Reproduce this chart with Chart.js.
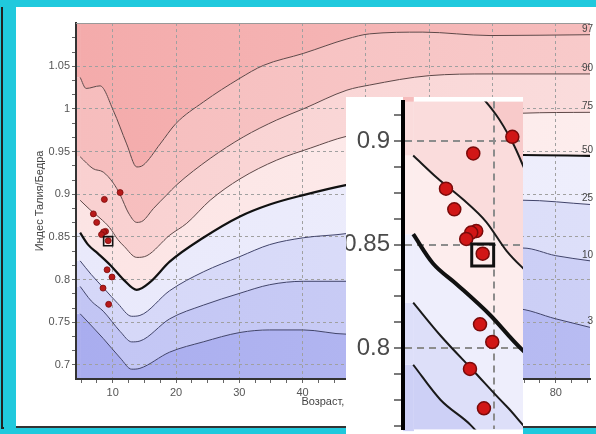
<!DOCTYPE html>
<html>
<head>
<meta charset="utf-8">
<script src="https://cdn.jsdelivr.net/npm/chart.js@4/dist/chart.umd.min.js"></script>
<style>
html, body { margin: 0; padding: 0; }
body { width: 596px; height: 434px; background: #20c9dd; position: relative; overflow: hidden; }
#frame { position: absolute; left: 1px; top: 7px; width: 1px; height: 420px; border-left: 2px solid #222; border-bottom: 2px solid #222; }
#panel { position: absolute; left: 16px; top: 7px; width: 580px; height: 419px; background: #fff; border-bottom: 2px solid #333; }
#mainBox { position: absolute; left: 16px; top: 7px; width: 580px; height: 419px; }
#zoomBox { position: absolute; left: 346px; top: 97px; width: 177px; height: 337px; background: #fff; }
</style>
</head>
<body>
<div id="frame"></div>
<div id="panel"></div>
<div id="mainBox"><canvas id="mainChart"></canvas></div>
<div id="zoomBox"><canvas id="zoomChart"></canvas></div>
<script>
const percentiles = ['3', '10', '25', '50', '75', '90', '97'];

const p3Age = [4.85, 8.5, 11.2, 13.0, 14.3, 19, 24.3, 30.1, 34.8, 40.1, 47, 73.5, 80, 85.4];
const p3Val = [0.760, 0.731, 0.708, 0.695, 0.696, 0.715, 0.727, 0.738, 0.741, 0.741, 0.736, 0.766, 0.754, 0.744];

const p10Age = [4.85, 6.6, 8.5, 11.2, 13.0, 14.3, 19, 24.3, 30.1, 34.8, 40.1, 47, 74.8, 80, 85.4];
const p10Val = [0.792, 0.775, 0.763, 0.739, 0.727, 0.728, 0.754, 0.770, 0.784, 0.794, 0.798, 0.798, 0.837, 0.828, 0.822];

const p25Age = [4.85, 6.6, 8.7, 10.8, 13.0, 14.3, 19, 24.3, 30.1, 34.8, 40.1, 47, 74.8, 85.4];
const p25Val = [0.822, 0.806, 0.789, 0.772, 0.757, 0.758, 0.787, 0.809, 0.827, 0.841, 0.849, 0.854, 0.893, 0.888];

const p50Age = [4.85, 6.1, 7.6, 9.75, 11.7, 13.8, 15.9, 19, 24.3, 30.1, 34.8, 40.1, 47, 74.8, 85.4];
const p50Val = [0.855, 0.841, 0.831, 0.816, 0.800, 0.788, 0.797, 0.821, 0.849, 0.874, 0.888, 0.899, 0.911, 0.946, 0.945];

const p75Age = [4.85, 6.4, 8.0, 9.5, 10.8, 11.8, 13.8, 15.4, 19, 21.7, 25.4, 30.1, 35.9, 41.2, 47, 74.8, 85.4];
const p75Val = [0.893, 0.882, 0.872, 0.861, 0.847, 0.839, 0.826, 0.828, 0.852, 0.866, 0.893, 0.918, 0.940, 0.954, 0.968, 0.995, 0.996];

const p90Age = [4.85, 6.9, 8.5, 10.1, 11.2, 12.5, 13.8, 14.8, 16.4, 18.5, 20.1, 25.4, 30.6, 35.9, 40.1, 47, 50.6, 60, 69.6, 85.4];
const p90Val = [0.944, 0.930, 0.926, 0.913, 0.899, 0.878, 0.867, 0.869, 0.883, 0.899, 0.911, 0.942, 0.967, 0.987, 1.000, 1.022, 1.028, 1.039, 1.041, 1.041];

const p97Age = [4.85, 5.8, 8.0, 10.1, 12.2, 13.8, 14.8, 17.5, 20, 24.3, 30.1, 33.8, 40.1, 47, 50.6, 59, 69.6, 85.4];
const p97Val = [1.037, 1.024, 1.027, 0.998, 0.959, 0.932, 0.934, 0.959, 0.983, 1.008, 1.036, 1.051, 1.065, 1.082, 1.088, 1.090, 1.086, 1.087];

// patient measurements and the current visit
const pointAge = [11.17, 8.68, 6.94, 7.47, 8.87, 8.55, 8.23, 9.28, 9.11, 9.89, 8.47, 9.36];
const pointVal = [0.902, 0.894, 0.877, 0.867, 0.8565, 0.8558, 0.8527, 0.8456, 0.8115, 0.803, 0.790, 0.771];
const markAge = [9.28];
const markVal = [0.845];

const xTicksMain = [10, 20, 30, 40, 50, 60, 70, 80];
const yTicksMain = [0.7, 0.75, 0.8, 0.85, 0.9, 0.95, 1, 1.05];
const xTicksZoom = [10];
const yTicksZoom = [0.8, 0.85, 0.9];

const curves = [
    [p3Age, p3Val], [p10Age, p10Val], [p25Age, p25Val], [p50Age, p50Val],
    [p75Age, p75Val], [p90Age, p90Val], [p97Age, p97Val]
];

// band fills from below P3 up to above P97
const bandLeft = ['#a9adef', '#c2c5f4', '#d5d7f8', '#e9e9fb', '#fce4e4', '#f9d0d0', '#f6bdbd', '#f4abab'];
const bandRight = ['#b8bcf2', '#cdd0f6', '#dddff9', '#eeeefc', '#fdeded', '#fadcdc', '#f8caca', '#f6bcbc'];

Chart.defaults.font.family = '"Liberation Sans", Arial, sans-serif';

function toXY(ages, vals) {
    return ages.map((a, i) => ({ x: a, y: vals[i] }));
}

function isMajor(v, majors) {
    return majors.some(m => Math.abs(m - v) < 1e-6);
}

function tickList(majors, step, lo, hi) {
    const out = [];
    const first = majors[0];
    for (let k = Math.ceil((lo - first) / step - 1e-9); first + k * step <= hi + 1e-9; k++) {
        out.push(+(first + k * step).toFixed(6));
    }
    return out;
}

function band(i, zoomed) {
    return (c) => {
        const area = c.chart.chartArea;
        if (zoomed || !area) return bandRight[i];
        const g = c.chart.ctx.createLinearGradient(area.left, 0, area.right, 0);
        g.addColorStop(0, bandLeft[i]);
        g.addColorStop(1, bandRight[i]);
        return g;
    };
}

function buildDatasets(zoomed) {
    const sets = curves.map((c, i) => ({
        label: percentiles[i],
        data: toXY(c[0], c[1]),
        borderColor: i === 3 ? '#111' : (zoomed ? '#1a1a1a' : (i > 3 ? '#5e4747' : '#40436a')),
        borderWidth: i === 3 ? (zoomed ? 4 : 2.2) : (zoomed ? 2 : 1),
        backgroundColor: band(i, zoomed),
        fill: i === 0 ? 'start' : '-1',
        pointRadius: 0,
        cubicInterpolationMode: 'monotone',
        order: 10 + i
    }));
    sets.push({
        label: 'top',
        data: toXY(p97Age, p97Val),
        borderWidth: 0,
        backgroundColor: band(7, zoomed),
        fill: 'end',
        pointRadius: 0,
        cubicInterpolationMode: 'monotone',
        order: 20
    });
    sets.push({
        type: 'scatter',
        label: 'points',
        data: toXY(pointAge, pointVal),
        pointRadius: zoomed ? 6.5 : 3,
        pointBackgroundColor: zoomed ? '#d11616' : '#b81a1a',
        pointBorderColor: '#7a0a0a',
        pointBorderWidth: zoomed ? 1.5 : 0.8,
        order: 1
    });
    sets.push({
        type: 'scatter',
        label: 'visit',
        data: toXY(markAge, markVal),
        pointStyle: 'rect',
        pointRadius: zoomed ? 15.5 : 6.4,
        pointBackgroundColor: 'rgba(0,0,0,0)',
        pointBorderColor: '#111',
        pointBorderWidth: zoomed ? 3 : 1.6,
        order: 0
    });
    return sets;
}

// carry each band flat to the left axis, before the curves begin
function edgeFill(palette) {
    return {
        id: 'edgeFill',
        beforeDatasetsDraw(chart) {
            const a = chart.chartArea;
            const ctx = chart.ctx;
            const first = percentiles.map((p, i) => chart.getDatasetMeta(i).data[0]);
            const x1 = first[0].x;
            ctx.save();
            for (let b = 0; b <= percentiles.length; b++) {
                const lower = b === 0 ? a.bottom : first[b - 1].y;
                const upper = b === percentiles.length ? a.top : first[b].y;
                ctx.fillStyle = palette[b];
                ctx.fillRect(a.left, upper, x1 - a.left + 0.5, lower - upper);
            }
            ctx.restore();
        }
    };
}

// grid goes back on top of the band fills, under the curves
const gridOverFill = {
    id: 'gridOverFill',
    beforeDatasetsDraw(chart) {
        Object.values(chart.scales).forEach(s => {
            s.drawGrid(chart.chartArea);
            s.drawBorder();
        });
    }
};

const percentileLabels = {
    id: 'percentileLabels',
    afterDatasetsDraw(chart) {
        const ctx = chart.ctx;
        ctx.save();
        ctx.font = '10px "Liberation Sans", Arial, sans-serif';
        ctx.fillStyle = '#444';
        ctx.textAlign = 'right';
        ctx.textBaseline = 'alphabetic';
        percentiles.forEach((name, i) => {
            const pts = chart.getDatasetMeta(i).data;
            const last = pts[pts.length - 1];
            ctx.fillText(name, chart.chartArea.right + 3, last.y - 3);
        });
        ctx.restore();
    }
};

const topEdge = {
    id: 'topEdge',
    afterDraw(chart) {
        const a = chart.chartArea;
        const ctx = chart.ctx;
        ctx.save();
        ctx.strokeStyle = '#999';
        ctx.lineWidth = 1;
        ctx.beginPath();
        ctx.moveTo(a.left, a.top + 0.5);
        ctx.lineTo(a.right, a.top + 0.5);
        ctx.stroke();
        ctx.restore();
    }
};

const xAllMain = tickList(xTicksMain, 2.5, 4.2, 85.4);
const yAllMain = tickList(yTicksMain, 0.05 / 3, 0.6835, 1.099);
const yAllZoom = tickList(yTicksZoom, 0.0125, 0.7608, 0.919);

new Chart(document.getElementById('mainChart'), {
    type: 'line',
    data: { datasets: buildDatasets(false) },
    options: {
        responsive: true,
        maintainAspectRatio: false,
        animation: false,
        layout: { autoPadding: false, padding: { top: 16, right: 6, left: 0, bottom: 0 } },
        plugins: {
            legend: { display: false },
            tooltip: { enabled: false },
            filler: { drawTime: 'beforeDatasetsDraw' }
        },
        scales: {
            x: {
                type: 'linear',
                min: 4.2,
                max: 85.4,
                afterFit: s => { s.height = 47; },
                afterBuildTicks: s => { s.ticks = xAllMain.map(v => ({ value: v })); },
                ticks: {
                    autoSkip: false,
                    maxRotation: 0,
                    padding: 3,
                    color: '#555',
                    font: c => ({ size: c.tick && isMajor(c.tick.value, xTicksMain) ? 11 : 1 }),
                    callback: v => isMajor(v, xTicksMain) ? String(v) : ''
                },
                grid: {
                    color: c => c.tick && isMajor(c.tick.value, xTicksMain) ? '#a0a0a0' : 'rgba(0,0,0,0)',
                    tickColor: '#666',
                    tickLength: 4,
                    lineWidth: 1
                },
                border: { color: '#333', width: 2, dash: [3, 3] },
                title: {
                    display: true,
                    text: 'Возраст, лет',
                    color: '#444',
                    font: { size: 11 },
                    padding: { top: 0, bottom: 17 }
                }
            },
            y: {
                type: 'linear',
                min: 0.6835,
                max: 1.1007,
                afterFit: s => { s.width = 60; },
                afterBuildTicks: s => { s.ticks = yAllMain.map(v => ({ value: v })); },
                ticks: {
                    autoSkip: false,
                    padding: 2,
                    color: '#555',
                    font: c => ({ size: c.tick && isMajor(c.tick.value, yTicksMain) ? 11 : 1 }),
                    callback: v => isMajor(v, yTicksMain) ? String(+v.toFixed(2)) : ''
                },
                grid: {
                    color: c => c.tick && isMajor(c.tick.value, yTicksMain) ? '#a0a0a0' : 'rgba(0,0,0,0)',
                    tickColor: '#666',
                    tickLength: 4,
                    lineWidth: 1
                },
                border: { color: '#333', width: 2, dash: [3, 3] },
                title: {
                    display: true,
                    text: 'Индес Талия/Бедра',
                    color: '#444',
                    font: { size: 11 },
                    padding: { top: 17, bottom: 0 }
                }
            }
        }
    },
    plugins: [edgeFill(bandLeft), gridOverFill, percentileLabels, topEdge]
});

// magnified view of the first years
new Chart(document.getElementById('zoomChart'), {
    type: 'line',
    data: { datasets: buildDatasets(true) },
    options: {
        responsive: true,
        maintainAspectRatio: false,
        animation: false,
        layout: { autoPadding: false, padding: 0 },
        plugins: {
            legend: { display: false },
            tooltip: { enabled: false },
            filler: { drawTime: 'beforeDatasetsDraw' }
        },
        scales: {
            x: {
                type: 'linear',
                min: 4.2,
                max: 11.85,
                afterFit: s => { s.height = 0; },
                afterBuildTicks: s => { s.ticks = xTicksZoom.map(v => ({ value: v })); },
                ticks: { display: false },
                grid: { color: '#8c8c8c', lineWidth: 2, drawTicks: false },
                border: { display: false, dash: [7, 5] }
            },
            y: {
                type: 'linear',
                min: 0.7608,
                max: 0.919,
                afterFit: s => { s.width = 57; },
                afterBuildTicks: s => { s.ticks = yAllZoom.map(v => ({ value: v })); },
                ticks: {
                    autoSkip: false,
                    padding: 4,
                    color: '#4a4a4a',
                    font: c => ({ size: c.tick && isMajor(c.tick.value, yTicksZoom) ? 24 : 1 }),
                    callback: v => isMajor(v, yTicksZoom) ? String(+v.toFixed(2)) : ''
                },
                grid: {
                    color: c => c.tick && isMajor(c.tick.value, yTicksZoom) ? '#8c8c8c' : 'rgba(0,0,0,0)',
                    tickColor: '#7a7a7a',
                    tickWidth: 2,
                    tickLength: 9,
                    lineWidth: 2
                },
                border: { color: '#000', width: 4, dash: [7, 5] }
            }
        }
    },
    plugins: [edgeFill(bandRight), gridOverFill]
});
</script>
</body>
</html>
